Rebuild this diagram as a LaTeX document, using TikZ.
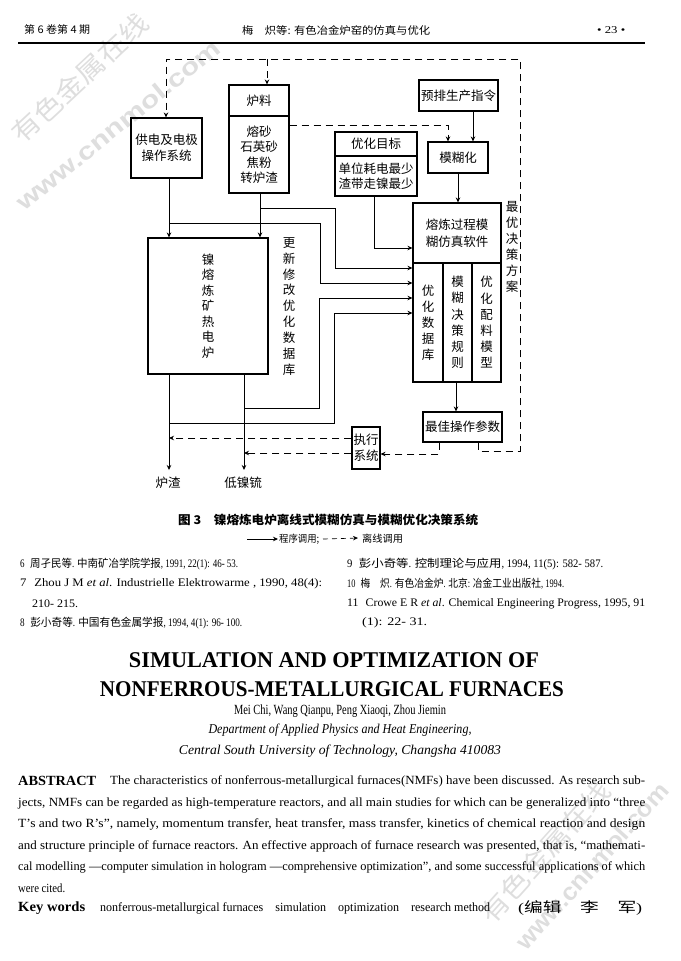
\documentclass[tikz,border=0pt]{standalone}
\usepackage{fontspec}
\usepackage{graphicx}
\setmainfont{Liberation Serif}
\newfontfamily\cond[FakeStretch=0.82]{Liberation Serif}
\newfontfamily\cjk{Noto Sans CJK SC}
\newfontfamily\wmfont{Liberation Sans}
\usetikzlibrary{arrows.meta}
\newcommand\fitw[2]{\resizebox{#1pt}{\height}{#2}}
\newcommand\zh[1]{{\cjk\fontsize{11}{12}\selectfont #1}}
\begin{document}
\begin{tikzpicture}[x=1pt,y=-1pt,
  box/.style={draw, line width=1.1pt, inner sep=0pt, anchor=center, align=center, font=\cjk\fontsize{12.5}{15.5}\selectfont},
  conn/.style={line width=0.8pt, -{Stealth[length=5pt,width=4.5pt]}},
  dconn/.style={conn, dash pattern=on 7pt off 5pt},
  lbl/.style={inner sep=0pt, align=center, font=\cjk\fontsize{12.5}{15.5}\selectfont},
  txt/.style={inner sep=0pt, anchor=west},
  ctr/.style={inner sep=0pt, anchor=center},
  wm/.style={inner sep=0pt, text=black!13}
]
\useasboundingbox (0,0) rectangle (680,961);
\fill[white] (0,0) rectangle (680,961);

% ---------- watermarks ----------
\node[wm, rotate=43] (wm1) at (80,78) {\fitw{175}{\cjk\fontsize{26}{28}\selectfont 有色金属在线}};
\node[wm, rotate=39] (wm2) at (118,125) {\fitw{255}{\wmfont\bfseries\fontsize{24}{26}\selectfont www.cnnmol.com}};
\node[wm, rotate=48] (wm3) at (545,852) {\fitw{180}{\cjk\fontsize{26}{28}\selectfont 有色金属在线}};
\node[wm, rotate=48] (wm4) at (592,866) {\fitw{215}{\wmfont\bfseries\fontsize{24}{26}\selectfont www.cnnmol.com}};

% ---------- header ----------
\node[txt] (h1) at (24,30) {\fitw{66}{\cjk\fontsize{10.5}{12}\selectfont 第 6 卷第 4 期}};
\node[txt] (h2) at (242,30) {\fitw{188}{\cjk\fontsize{10.5}{12}\selectfont 梅\quad 炽等: 有色冶金炉窑的仿真与优化}};
\node[txt] (h3) at (597,30) {\fitw{28}{\fontsize{10.5}{12}\selectfont • 23 •}};
\coordinate (hr1) at (18,43);
\coordinate (hr2) at (645,43);
\draw[line width=1.4pt] (hr1) -- (hr2);

% ---------- diagram boxes ----------
\node[box, minimum width=71pt, minimum height=60pt] (gd) at (166.5,148) {供电及电极\\操作系统};
\node[box, minimum width=60pt, minimum height=31pt] (llt) at (259,100.5) {炉料};
\node[box, minimum width=60pt, minimum height=77pt] (llb) at (259,154.5) {熔砂\\石英砂\\焦粉\\转炉渣};
\node[box, minimum width=79pt, minimum height=31pt] (yp) at (458.5,95.5) {预排生产指令};
\node[box, minimum width=60pt, minimum height=31pt] (mh) at (458,157.5) {模糊化};
\node[box, minimum width=82pt, minimum height=24pt] (yht) at (376,144) {优化目标};
\node[box, minimum width=82pt, minimum height=40pt, font=\cjk\fontsize{12.5}{15}\selectfont] (yhb) at (376,176) {单位耗电最少\\渣带走镍最少};
\node[box, minimum width=88pt, minimum height=60pt, font=\cjk\fontsize{12.5}{17}\selectfont] (rlt) at (457,233) {熔炼过程模\\糊仿真软件};
\node[box, minimum width=30pt, minimum height=119pt, font=\cjk\fontsize{12.5}{16}\selectfont] (rc1) at (428,322.5) {优\\化\\数\\据\\库};
\node[box, minimum width=29pt, minimum height=119pt, font=\cjk\fontsize{12.5}{16.2}\selectfont] (rc2) at (457.5,322.5) {模\\糊\\决\\策\\规\\则};
\node[box, minimum width=29pt, minimum height=119pt, font=\cjk\fontsize{12.5}{16.2}\selectfont] (rc3) at (486.5,322.5) {优\\化\\配\\料\\模\\型};
\node[box, minimum width=120pt, minimum height=136pt] (nf) at (208,306) {镍\\熔\\炼\\矿\\热\\电\\炉};
\node[box, minimum width=79pt, minimum height=30pt] (zj) at (462.5,427) {最佳操作参数};
\node[box, minimum width=28pt, minimum height=42pt, font=\cjk\fontsize{12.5}{16}\selectfont] (zx) at (366,448) {执行\\系统};

% ---------- free labels ----------
\node[lbl, font=\cjk\fontsize{12.5}{15.9}\selectfont] (gx) at (289,306.5) {更\\新\\修\\改\\优\\化\\数\\据\\库};
\node[lbl, font=\cjk\fontsize{12.5}{16}\selectfont] (zy) at (512,247) {最\\优\\决\\策\\方\\案};
\node[lbl] (lz) at (168,483) {炉渣};
\node[lbl] (dnm) at (243,483) {低镍锍};

% ---------- solid connectors ----------
\coordinate (j1) at (260,208);
\coordinate (j2) at (169,223);
\coordinate (j3) at (244,408);
\coordinate (j4) at (169,423);
\draw[conn] (yp.south -| 473,0) -- (mh.north -| 473,0);
\draw[conn] (mh.south) -- (mh.south |- rlt.north);
\draw[conn] (yhb.south -| 374,0) |- (rlt.west |- 0,248);
\draw[conn] (gd.south -| 169,0) -- (nf.north -| 169,0);
\draw[conn] (llb.south -| 260,0) -- (nf.north -| 260,0);
\draw[conn] (j1) -| (335,268) -- (rc1.west |- 0,268);
\draw[conn] (j2) -| (320,283) -- (rc1.west |- 0,283);
\draw[conn] (nf.south -| 244,0) -- ([yshift=7pt]dnm.north -| 244,0);
\draw[conn] (nf.south -| 169,0) -- ([yshift=7pt]lz.north -| 169,0);
\draw[conn] (j3) -| (319,298) -- (rc1.west |- 0,298);
\draw[conn] (j4) -| (334,313) -- (rc1.west |- 0,313);
\draw[conn] (rc2.south -| 456,0) -- (zj.north -| 456,0);

% ---------- dashed connectors ----------
\coordinate (k1) at (169,438);
\coordinate (k2) at (244,453);
\coordinate (c1) at (520,451);
\coordinate (c2) at (520,59);
\coordinate (c3) at (166,59);
\coordinate (c4) at (267,59);
\draw[dconn] (zj.south -| 439,0) |- (zx.east |- 0,454);
\draw[dconn] (zx.west |- 0,438) -- (k1);
\draw[dconn] (zx.west |- 0,453) -- (k2);
\draw[dconn] (zj.south -| 478,0) |- (c1) -- (c2) -- (c3) -- (gd.north -| 166,0);
\draw[dconn] (c4) -- (llt.north -| 267,0);
\draw[dconn] (llb.east |- 0,125) -| (mh.north -| 448,0);

% ---------- caption ----------
\node[txt] (cap1) at (178,520) {\fitw{300}{\cjk\bfseries\fontsize{12}{14}\selectfont 图 3\quad 镍熔炼电炉离线式模糊仿真与模糊优化决策系统}};
\coordinate (la1) at (247,539);
\coordinate (la2) at (278,539);
\draw[conn, line width=0.7pt] (la1) -- (la2);
\node[txt] (leg1) at (279,539) {\fitw{40}{\cjk\fontsize{10}{12}\selectfont 程序调用;}};
\coordinate (lb1) at (323,539);
\coordinate (lb2) at (358,538);
\draw[dconn, line width=0.7pt, dash pattern=on 5pt off 4pt] (lb1) -- (lb2);
\node[txt] (leg2) at (362,539) {\fitw{41}{\cjk\fontsize{10}{12}\selectfont 离线调用}};

% ---------- references ----------
\node[txt] (r6) at (20,564) {\fitw{218}{\cond\fontsize{11.5}{13}\selectfont 6\enspace\zh{周孑民等}. \zh{中南矿冶学院学报}, 1991, 22(1): 46- 53.}};
\node[txt] (r7) at (20,584) {\fitw{302}{\cond\fontsize{11.5}{13}\selectfont 7\enspace Zhou J M \textit{et al}. Industrielle Elektrowarme , 1990, 48(4):}};
\node[txt] (r7b) at (32,604) {\fitw{46}{\cond\fontsize{11.5}{13}\selectfont 210- 215.}};
\node[txt] (r8) at (20,623) {\fitw{222}{\cond\fontsize{11.5}{13}\selectfont 8\enspace\zh{彭小奇等}. \zh{中国有色金属学报}, 1994, 4(1): 96- 100.}};
\node[txt] (r9) at (347,564) {\fitw{256}{\cond\fontsize{11.5}{13}\selectfont 9\enspace\zh{彭小奇等}. \zh{控制理论与应用}, 1994, 11(5): 582- 587.}};
\node[txt] (r10) at (347,584) {\fitw{217}{\cond\fontsize{11.5}{13}\selectfont 10\enspace\zh{梅\quad 炽}. \zh{有色冶金炉}. \zh{北京}: \zh{冶金工业出版社}, 1994.}};
\node[txt] (r11) at (347,604) {\fitw{298}{\cond\fontsize{11.5}{13}\selectfont 11\enspace Crowe E R \textit{et al}. Chemical Engineering Progress, 1995, 91}};
\node[txt] (r11b) at (362,623) {\fitw{65}{\cond\fontsize{11.5}{13}\selectfont (1): 22- 31.}};

% ---------- English title block ----------
\node[ctr] (t1) at (334,660.5) {\fitw{410}{\fontsize{22.5}{26}\selectfont\bfseries SIMULATION AND OPTIMIZATION OF}};
\node[ctr] (t2) at (332,689.5) {\fitw{464}{\fontsize{22.5}{26}\selectfont\bfseries NONFERROUS-METALLURGICAL FURNACES}};
\node[ctr] (au) at (340,711) {\fitw{212}{\fontsize{14}{16}\selectfont Mei Chi, Wang Qianpu, Peng Xiaoqi, Zhou Jiemin}};
\node[ctr] (dp) at (340,730) {\fitw{263}{\fontsize{13.5}{15}\selectfont\itshape Department of Applied Physics and Heat Engineering,}};
\node[ctr] (cs) at (340,751) {\fitw{322}{\fontsize{13.5}{15}\selectfont\itshape Central South University of Technology, Changsha 410083}};

% ---------- abstract ----------
\node[txt] (a0) at (18,781) {\fitw{78}{\fontsize{14}{16}\selectfont\bfseries ABSTRACT}};
\node[txt] (a1) at (110,781) {\fitw{535}{\fontsize{12.5}{14}\selectfont The characteristics of nonferrous-metallurgical furnaces(NMFs) have been discussed. As research sub-}};
\node[txt] (a2) at (18,803) {\fitw{627}{\fontsize{12.5}{14}\selectfont jects, NMFs can be regarded as high-temperature reactors, and all main studies for which can be generalized into ``three}};
\node[txt] (a3) at (18,824) {\fitw{627}{\fontsize{12.5}{14}\selectfont T's and two R's'', namely, momentum transfer, heat transfer, mass transfer, kinetics of chemical reaction and design}};
\node[txt] (a4) at (18,846) {\fitw{627}{\fontsize{12.5}{14}\selectfont and structure principle of furnace reactors. An effective approach of furnace research was presented, that is, ``mathemati-}};
\node[txt] (a5) at (18,867) {\fitw{627}{\fontsize{12.5}{14}\selectfont cal modelling ---computer simulation in hologram ---comprehensive optimization'', and some successful applications of which}};
\node[txt] (a6) at (18,888) {\fitw{47}{\fontsize{12.5}{14}\selectfont were cited.}};
\node[txt] (kw) at (18,908) {\fitw{67}{\fontsize{14}{16}\selectfont\bfseries Key words}};
\node[txt] (kw2) at (100,908) {\fitw{390}{\fontsize{12.5}{14}\selectfont nonferrous-metallurgical furnaces\quad simulation\quad optimization\quad research method}};
\node[txt] (ed) at (518,908) {\fitw{124}{\fontsize{13.5}{15}\selectfont (\zh{\fontsize{14}{15}\selectfont 编辑\quad 李\quad 军})}};
\end{tikzpicture}
\end{document}
